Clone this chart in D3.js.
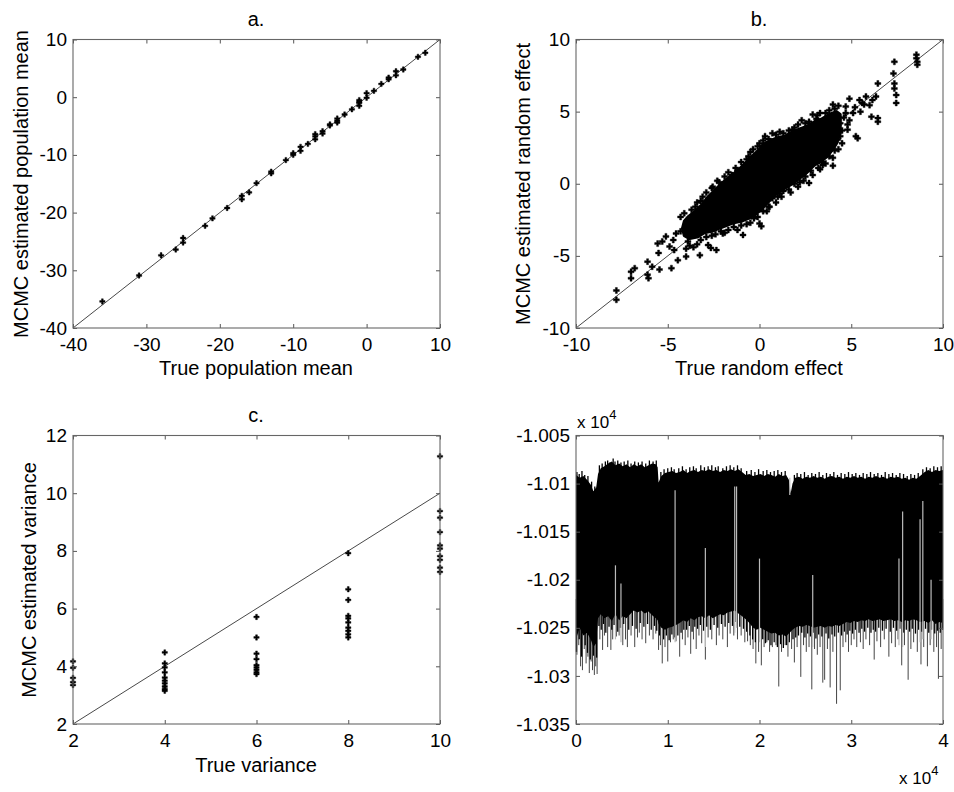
<!DOCTYPE html>
<html>
<head>
<meta charset="utf-8">
<title>MCMC estimates</title>
<script src="https://cdnjs.cloudflare.com/ajax/libs/d3/7.8.5/d3.min.js"></script>
<style>
  body { margin: 0; background: #fff; }
  svg text { font-family: "Liberation Sans", Arial, Helvetica, sans-serif; fill: #000; }
</style>
</head>
<body>
<svg width="954" height="792"></svg>
<script>
// ---- panel a: population means
var popTrue = [-36,-31,-28,-26,-25,-25,-22,-21,-19,-17,-17,-16,-15,-13,-13,-11,-10,-10,-9,-9,-8,
  -7,-7,-7,-6,-6,-5,-5,-4,-4,-4,-3,-2,-1,-1,-1,-1,0,0,1,2,3,3,4,4,5,7,8];
var popEst = [-35.4,-30.9,-27.4,-26.4,-24.4,-25.2,-22.3,-21.0,-19.2,-17.1,-17.7,-16.5,-14.9,-12.9,-13.2,-10.9,-10.0,-9.7,-8.6,-9.3,-8.1,
  -6.4,-6.8,-7.3,-5.9,-6.3,-4.9,-4.7,-3.7,-4.1,-4.4,-3.0,-2.1,-0.5,-0.8,-1.0,-1.5,0.7,-0.1,1.1,2.3,3.1,3.4,4.5,3.8,4.8,7.0,7.7];
var popTicks = [-40,-30,-20,-10,0,10];

// ---- panel b: random effects (outline of the saturated core + individual points)
var effectCore = [[-4.2,-3.1],[-4.1,-2.6],[-3.9,-2.3],[-3.5,-1.9],[-3.1,-1.4],[-2.8,-0.9],[-2.4,-0.4],[-2.0,0.1],
  [-1.6,0.5],[-1.2,0.9],[-0.8,1.4],[-0.4,1.9],[0.0,2.4],[0.3,2.8],[0.6,3.0],[1.0,3.2],[1.4,3.3],[1.8,3.6],[2.2,3.8],
  [2.6,4.0],[3.0,4.3],[3.4,4.5],[3.8,4.8],[4.2,5.0],[4.4,4.8],[4.4,3.6],[4.2,2.8],[4.0,2.4],[3.7,1.9],[3.3,1.5],
  [3.0,1.3],[2.6,0.8],[2.2,0.4],[1.8,0.0],[1.4,-0.3],[1.0,-0.6],[0.6,-1.1],[0.3,-1.5],[0.0,-1.9],[-0.3,-2.2],
  [-0.6,-2.4],[-1.0,-2.6],[-1.4,-2.7],[-1.8,-2.9],[-2.2,-3.1],[-2.6,-3.3],[-3.0,-3.4],[-3.4,-3.7],[-3.8,-3.8],
  [-4.1,-3.6]];
var effectPoints = [[-7.8,-7.4],[-7.8,-8.05],[-7.0,-6.1],[-6.8,-5.85],[-7.0,-6.55],[-6.1,-5.4],[-6.1,-6.3],[-6.05,-6.55],
  [-5.85,-5.75],[-5.55,-4.15],[-5.5,-4.8],[-5.45,-5.95],[-5.3,-4.0],[-5.1,-3.65],[-4.9,-4.35],[-4.8,-5.85],[-4.65,-4.6],
  [-4.55,-3.45],[-4.45,-5.3],[-4.0,-5.05],[-4.1,-2.05],[-3.9,-4.0],[-3.25,-4.95],[-3.1,-0.9],[-2.8,-4.25],[-2.65,-4.45],
  [-2.55,-0.2],[-2.35,-4.6],[-2.0,-3.45],[-1.45,-0.3],[-1.1,-0.2],[-0.9,-3.55],[-0.55,0.25],[0.0,-2.75],[0.1,-2.95],
  [0.15,2.6],[0.0,2.1],[-0.3,1.9],[0.55,-1.6],[1.1,-0.65],[1.35,3.05],[1.8,3.75],[2.7,0.05],[3.15,4.75],[3.15,4.4],
  [3.45,1.3],[3.55,2.0],[4.0,1.25],[4.25,3.05],[4.7,5.35],[4.8,3.75],[4.9,5.9],[5.25,3.3],[5.35,3.15],[5.45,5.8],
  [5.6,5.6],[5.8,6.05],[6.0,5.45],[6.1,4.65],[6.15,5.8],[6.35,6.05],[6.45,6.95],[6.45,4.55],[6.45,4.3],[7.35,8.45],
  [7.3,7.65],[7.35,6.95],[7.35,6.6],[7.45,6.15],[7.45,5.6],[8.55,8.95],[8.55,8.7],[8.6,8.45],[8.6,8.25],
  [-3.5,-1.6],[-3.2,-1.2],[-2.9,-0.6],[-2.2,0.1],[-1.9,0.5],[-1.5,0.6],[-1.2,0.9],[-0.8,1.2],[-0.6,1.9],[-0.35,2.4],
  [0.0,2.8],[0.3,3.3],[0.7,3.5],[1.1,3.6],[1.6,3.7],[2.1,4.1],[2.3,4.4],[2.7,4.3],[2.9,4.8],[3.3,4.9],[3.8,5.1],
  [4.0,5.5],[4.3,5.4],[-3.8,-4.3],[-3.4,-4.2],[-2.9,-3.7],[-2.6,-3.6],[-2.1,-3.3],[-1.7,-3.2],[-1.4,-3.0],[-1.0,-2.9],
  [-0.7,-2.8],[-0.3,-2.4],[0.2,-1.9],[0.5,-1.6],[0.7,-1.0],[1.0,-0.9],[1.3,-0.5],[1.6,-0.4],[1.9,0.0],[2.2,0.1],
  [2.5,0.5],[2.8,0.9],[3.2,1.1],[3.4,1.5],[3.8,1.9],[4.1,2.3],[4.4,3.3],[4.5,2.8],[4.4,4.2],[4.6,4.6],[4.7,4.9],
  [4.9,4.4],[5.1,4.9],[5.2,5.3],[5.5,5.0],[5.7,5.5],[4.5,3.7],[4.8,4.1],[-4.7,-3.9],[-4.3,-3.3],[-4.0,-2.9],
  [-4.3,-2.3],[-3.7,-1.8],[-3.4,-1.3],[-2.6,-0.3],[-2.3,0.2],[-1.7,0.8],[-1.3,1.1],[-1.0,1.5],[-0.7,1.7],[-0.5,2.2],
  [-0.1,2.6],[0.2,3.0],[0.5,3.1],[0.9,3.4],[1.3,3.5],[1.9,3.9],[2.5,4.2],[3.1,4.5],[3.6,4.9],[4.1,5.2],
  [-4.0,-4.5],[-3.6,-4.4],[-3.2,-3.9],[-2.4,-3.5],[-1.9,-3.4],[-1.2,-3.2],[-0.5,-2.7],[-0.1,-2.3],[0.4,-1.9],[0.9,-1.3],
  [1.2,-0.9],[1.7,-0.6],[2.1,-0.2],[2.4,0.2],[2.9,0.6],[3.3,1.0],[3.6,1.4],[4.0,1.8],[4.3,2.4]];
var effectTicks = [-10,-5,0,5,10];

// ---- panel c: variances
var varLevels = [2,4,6,8,10];
var varEstimates = [
  [4.17,3.95,3.6,3.45,3.35],
  [4.48,4.10,3.96,3.79,3.61,3.50,3.41,3.30,3.21,3.15],
  [5.71,5.0,4.44,4.25,4.04,3.96,3.88,3.79,3.73],
  [7.92,6.67,6.30,5.75,5.66,5.52,5.34,5.23,5.11,5.0],
  [11.28,9.38,9.15,8.65,8.19,8.08,7.82,7.69,7.42,7.27]];
var varXTicks = [2,4,6,8,10];
var varYTicks = [2,4,6,8,10,12];

// ---- panel d: trace (iteration x1e4, value x1e4): [iter, upper, lower]
var traceBand = [[0.00,-1.0091,-1.0262],[0.04,-1.0094,-1.0250],[0.08,-1.0092,-1.0258],[0.12,-1.0096,-1.0255],
  [0.16,-1.0101,-1.0262],[0.19,-1.0108,-1.0270],[0.22,-1.0104,-1.0266],[0.24,-1.0090,-1.0240],[0.27,-1.0084,-1.0236],
  [0.31,-1.0082,-1.0240],[0.35,-1.0079,-1.0238],[0.39,-1.0077,-1.0243],[0.43,-1.0081,-1.0236],[0.47,-1.0079,-1.0242],
  [0.51,-1.0082,-1.0238],[0.55,-1.0080,-1.0240],[0.59,-1.0083,-1.0236],[0.63,-1.0080,-1.0232],[0.67,-1.0082,-1.0234],
  [0.71,-1.0080,-1.0232],[0.75,-1.0083,-1.0235],[0.79,-1.0081,-1.0233],[0.83,-1.0079,-1.0237],[0.87,-1.0080,-1.0240],
  [0.89,-1.0083,-1.0242],[0.90,-1.0099,-1.0246],[0.93,-1.0092,-1.0250],[0.97,-1.0089,-1.0252],[1.01,-1.0088,-1.0250],
  [1.05,-1.0087,-1.0249],[1.09,-1.0089,-1.0247],[1.13,-1.0088,-1.0245],[1.17,-1.0086,-1.0242],[1.21,-1.0089,-1.0244],
  [1.25,-1.0087,-1.0240],[1.29,-1.0086,-1.0242],[1.33,-1.0088,-1.0239],[1.37,-1.0086,-1.0238],[1.41,-1.0087,-1.0240],
  [1.45,-1.0085,-1.0237],[1.49,-1.0087,-1.0240],[1.53,-1.0086,-1.0238],[1.57,-1.0088,-1.0236],[1.61,-1.0086,-1.0237],
  [1.65,-1.0087,-1.0234],[1.69,-1.0085,-1.0233],[1.73,-1.0087,-1.0232],[1.77,-1.0085,-1.0235],[1.81,-1.0088,-1.0238],
  [1.85,-1.0091,-1.0241],[1.89,-1.0090,-1.0245],[1.93,-1.0092,-1.0250],[1.97,-1.0091,-1.0252],[2.01,-1.0090,-1.0250],
  [2.05,-1.0092,-1.0252],[2.09,-1.0090,-1.0254],[2.13,-1.0091,-1.0256],[2.17,-1.0093,-1.0255],[2.21,-1.0090,-1.0258],
  [2.25,-1.0092,-1.0257],[2.29,-1.0091,-1.0259],[2.32,-1.0096,-1.0256],[2.34,-1.0110,-1.0254],[2.36,-1.0100,-1.0252],
  [2.39,-1.0094,-1.0250],[2.43,-1.0093,-1.0248],[2.47,-1.0095,-1.0249],[2.51,-1.0093,-1.0247],[2.55,-1.0094,-1.0248],
  [2.59,-1.0092,-1.0250],[2.63,-1.0094,-1.0249],[2.67,-1.0093,-1.0248],[2.71,-1.0095,-1.0250],[2.75,-1.0093,-1.0248],
  [2.79,-1.0092,-1.0249],[2.83,-1.0094,-1.0247],[2.87,-1.0093,-1.0248],[2.91,-1.0095,-1.0246],[2.95,-1.0093,-1.0244],
  [2.99,-1.0094,-1.0245],[3.03,-1.0092,-1.0243],[3.07,-1.0094,-1.0244],[3.11,-1.0093,-1.0242],[3.15,-1.0095,-1.0243],
  [3.19,-1.0093,-1.0241],[3.23,-1.0094,-1.0243],[3.27,-1.0092,-1.0242],[3.31,-1.0094,-1.0241],[3.35,-1.0093,-1.0243],
  [3.39,-1.0095,-1.0242],[3.43,-1.0093,-1.0241],[3.47,-1.0094,-1.0243],[3.51,-1.0093,-1.0242],[3.55,-1.0095,-1.0244],
  [3.59,-1.0094,-1.0242],[3.63,-1.0096,-1.0243],[3.67,-1.0094,-1.0241],[3.71,-1.0095,-1.0242],[3.75,-1.0092,-1.0244],
  [3.80,-1.0088,-1.0243],[3.84,-1.0086,-1.0245],[3.88,-1.0088,-1.0242],[3.92,-1.0086,-1.0246],[3.96,-1.0087,-1.0244],
  [4.00,-1.0086,-1.0245]];
// long downward excursions (drawn grey): [iter, lowest value]
var traceSpikes = [[0.01,-1.0278],[0.03,-1.0268],[0.05,-1.0290],[0.07,-1.0294],[0.09,-1.0272],[0.11,-1.0287],[0.13,-1.0280],
  [0.145,-1.0297],[0.165,-1.0285],[0.18,-1.0294],[0.20,-1.0299],[0.215,-1.0290],[0.23,-1.0298],[0.26,-1.0262],[0.29,-1.0273],
  [0.31,-1.0258],[0.345,-1.0270],[0.38,-1.0273],[0.40,-1.0262],[0.44,-1.0259],[0.47,-1.0258],[0.51,-1.0268],[0.54,-1.0262],
  [0.56,-1.0270],[0.60,-1.0258],[0.64,-1.0270],[0.67,-1.0260],[0.69,-1.0255],[0.72,-1.0262],[0.76,-1.0266],[0.80,-1.0258],
  [0.84,-1.0262],[0.87,-1.0256],[0.90,-1.0273],[0.92,-1.0268],[0.94,-1.0287],[0.97,-1.0270],[1.00,-1.0285],[1.03,-1.0265],
  [1.06,-1.0262],[1.09,-1.0264],[1.13,-1.0280],[1.16,-1.0262],[1.19,-1.0268],[1.22,-1.0260],[1.25,-1.0277],[1.28,-1.0262],
  [1.31,-1.0272],[1.34,-1.0258],[1.37,-1.0266],[1.41,-1.0283],[1.44,-1.0260],[1.48,-1.0262],[1.53,-1.0268],[1.56,-1.0258],
  [1.60,-1.0262],[1.65,-1.0270],[1.68,-1.0256],[1.72,-1.0258],[1.76,-1.0262],[1.80,-1.0258],[1.84,-1.0265],[1.87,-1.0264],
  [1.90,-1.0268],[1.93,-1.0272],[1.96,-1.0287],[1.99,-1.0275],[2.02,-1.0289],[2.05,-1.0270],[2.08,-1.0265],[2.11,-1.0275],
  [2.14,-1.0270],[2.18,-1.0268],[2.21,-1.0311],[2.24,-1.0275],[2.28,-1.0268],[2.31,-1.0280],[2.35,-1.0272],[2.38,-1.0286],
  [2.41,-1.0270],[2.45,-1.0301],[2.48,-1.0268],[2.51,-1.0275],[2.54,-1.0270],[2.57,-1.0314],[2.60,-1.0272],[2.63,-1.0278],
  [2.66,-1.0270],[2.69,-1.0307],[2.71,-1.0304],[2.74,-1.0272],[2.77,-1.0312],[2.80,-1.0275],[2.84,-1.0329],[2.88,-1.0315],
  [2.91,-1.0270],[2.94,-1.0265],[2.97,-1.0275],[3.00,-1.0268],[3.03,-1.0262],[3.06,-1.0270],[3.10,-1.0265],[3.13,-1.0272],
  [3.16,-1.0262],[3.20,-1.0268],[3.25,-1.0283],[3.28,-1.0264],[3.32,-1.0270],[3.36,-1.0262],[3.41,-1.0280],[3.44,-1.0266],
  [3.48,-1.0270],[3.51,-1.0262],[3.55,-1.0289],[3.58,-1.0268],[3.62,-1.0304],[3.65,-1.0272],[3.68,-1.0265],[3.72,-1.0275],
  [3.76,-1.0288],[3.79,-1.0270],[3.83,-1.0290],[3.86,-1.0268],[3.90,-1.0275],[3.93,-1.0270],[3.95,-1.0303],[3.98,-1.0272]];
// short excursions just below the band (drawn black): [iter, lowest value]
var traceFringe = [[0.005,-1.0275],[0.035,-1.0262],[0.06,-1.0280],[0.1,-1.0268],[0.125,-1.0276],[0.155,-1.0283],[0.19,-1.0279],
  [0.225,-1.0281],[0.25,-1.0248],[0.275,-1.0252],[0.3,-1.0246],[0.325,-1.0255],[0.36,-1.0249],[0.39,-1.0252],[0.415,-1.0247],
  [0.455,-1.0254],[0.485,-1.0250],[0.52,-1.0246],[0.575,-1.0252],[0.615,-1.0248],[0.655,-1.0251],[0.7,-1.0245],[0.74,-1.0249],
  [0.78,-1.0246],[0.82,-1.0252],[0.855,-1.0248],[0.88,-1.0253],[0.91,-1.0258],[0.955,-1.0262],[0.985,-1.0258],[1.015,-1.0263],
  [1.045,-1.0257],[1.075,-1.0260],[1.11,-1.0258],[1.145,-1.0255],[1.175,-1.0252],[1.205,-1.0252],[1.235,-1.0248],[1.265,-1.0254],
  [1.295,-1.0249],[1.325,-1.0251],[1.355,-1.0247],[1.39,-1.0253],[1.425,-1.0249],[1.465,-1.0252],[1.505,-1.0247],[1.545,-1.0250],
  [1.585,-1.0246],[1.625,-1.0249],[1.665,-1.0245],[1.705,-1.0248],[1.745,-1.0244],[1.785,-1.0249],[1.825,-1.0251],[1.86,-1.0254],
  [1.895,-1.0258],[1.925,-1.0262],[1.955,-1.0265],[2.035,-1.0262],[2.065,-1.0266],[2.095,-1.0263],[2.125,-1.0268],[2.16,-1.0265],
  [2.195,-1.0270],[2.23,-1.0267],[2.26,-1.0271],[2.295,-1.0268],[2.325,-1.0265],[2.365,-1.0262],[2.395,-1.0260],[2.425,-1.0258],
  [2.46,-1.0255],[2.495,-1.0260],[2.525,-1.0256],[2.555,-1.0259],[2.585,-1.0255],[2.615,-1.0261],[2.645,-1.0257],[2.68,-1.0259],
  [2.725,-1.0256],[2.755,-1.0261],[2.79,-1.0257],[2.82,-1.0259],[2.86,-1.0255],[2.895,-1.0258],[2.925,-1.0254],[2.955,-1.0257],
  [2.985,-1.0253],[3.015,-1.0256],[3.045,-1.0252],[3.085,-1.0255],[3.115,-1.0251],[3.145,-1.0254],[3.18,-1.0250],[3.215,-1.0255],
  [3.24,-1.0252],[3.265,-1.0254],[3.3,-1.0250],[3.34,-1.0253],[3.38,-1.0251],[3.425,-1.0254],[3.46,-1.0250],[3.495,-1.0253],
  [3.53,-1.0251],[3.57,-1.0255],[3.6,-1.0252],[3.635,-1.0254],[3.665,-1.0251],[3.7,-1.0256],[3.735,-1.0252],[3.77,-1.0254],
  [3.81,-1.0251],[3.845,-1.0255],[3.875,-1.0252],[3.91,-1.0256],[3.94,-1.0253],[3.97,-1.0255],[3.995,-1.0252]];
// short upward excursions above the band: [iter, highest value]
var traceCrest = [[0.01,-1.0088],[0.035,-1.0090],[0.065,-1.0087],[0.095,-1.0091],[0.13,-1.0092],[0.17,-1.0098],[0.205,-1.0103],
  [0.255,-1.0081],[0.285,-1.0079],[0.32,-1.0077],[0.345,-1.0076],[0.37,-1.0078],[0.405,-1.0074],[0.425,-1.0077],[0.455,-1.0076],
  [0.49,-1.0078],[0.525,-1.0077],[0.565,-1.0076],[0.6,-1.0079],[0.64,-1.0077],[0.68,-1.0078],[0.72,-1.0077],[0.76,-1.0079],
  [0.8,-1.0076],[0.84,-1.0077],[0.875,-1.0076],[0.925,-1.0088],[0.96,-1.0085],[1.0,-1.0084],[1.04,-1.0083],[1.07,-1.0085],
  [1.12,-1.0084],[1.16,-1.0082],[1.2,-1.0085],[1.24,-1.0083],[1.28,-1.0082],[1.31,-1.0084],[1.36,-1.0081],[1.4,-1.0083],
  [1.44,-1.0082],[1.48,-1.0081],[1.52,-1.0083],[1.55,-1.0082],[1.6,-1.0084],[1.64,-1.0082],[1.68,-1.0081],[1.72,-1.0083],
  [1.76,-1.0081],[1.8,-1.0084],[1.86,-1.0087],[1.91,-1.0086],[1.95,-1.0088],[1.99,-1.0085],[2.04,-1.0087],[2.08,-1.0086],
  [2.12,-1.0088],[2.16,-1.0087],[2.2,-1.0086],[2.24,-1.0088],[2.28,-1.0087],[2.38,-1.0091],[2.41,-1.0089],[2.45,-1.0090],
  [2.49,-1.0088],[2.53,-1.0091],[2.57,-1.0089],[2.61,-1.0090],[2.65,-1.0088],[2.69,-1.0091],[2.73,-1.0089],[2.77,-1.0090],
  [2.81,-1.0088],[2.85,-1.0091],[2.89,-1.0089],[2.93,-1.0090],[2.97,-1.0088],[3.01,-1.0090],[3.05,-1.0089],[3.09,-1.0091],
  [3.13,-1.0089],[3.17,-1.0090],[3.21,-1.0088],[3.25,-1.0090],[3.29,-1.0089],[3.33,-1.0091],[3.37,-1.0088],[3.41,-1.0090],
  [3.45,-1.0089],[3.49,-1.0091],[3.53,-1.0089],[3.57,-1.0090],[3.61,-1.0092],[3.65,-1.0090],[3.69,-1.0091],[3.73,-1.0089],
  [3.78,-1.0085],[3.82,-1.0083],[3.86,-1.0084],[3.9,-1.0082],[3.94,-1.0083],[3.98,-1.0082]];
// pale gaps inside the band: [iter, from, to]
var traceGaps = [[0.43,-1.0185,-1.0262],[0.49,-1.0204,-1.0265],[1.08,-1.0107,-1.0265],[1.41,-1.0167,-1.0270],
  [1.73,-1.0103,-1.0255],[1.75,-1.0103,-1.0250],[2.00,-1.0178,-1.0265],[2.33,-1.0094,-1.0112],[2.58,-1.0195,-1.0270],
  [3.52,-1.0178,-1.0268],[3.56,-1.0129,-1.0270],[3.75,-1.0137,-1.0265],[3.78,-1.0118,-1.0262],[3.87,-1.0200,-1.0262]];
var traceXTicks = [0,1,2,3,4];
var traceYTicks = [-1.035,-1.03,-1.025,-1.02,-1.015,-1.01,-1.005];

var FONT = '"Liberation Sans", Arial, Helvetica, sans-serif';
var svg = d3.select("svg");
var W = 367, H = 288.5;

function panel(left, top, xDom, yDom) {
  var g = svg.append("g").attr("transform", "translate(" + left + "," + top + ")");
  var x = d3.scaleLinear().domain(xDom).range([0, W]);
  var y = d3.scaleLinear().domain(yDom).range([H, 0]);
  return {g: g, x: x, y: y};
}

// matlab-ish box: inward ticks on all four sides
function frame(p, xTicks, yTicks) {
  var fmt = function(d) { return String(d); };
  var none = function() { return ""; };
  var b = p.g.append("g").attr("transform", "translate(0," + H + ")")
    .call(d3.axisBottom(p.x).tickValues(xTicks).tickSize(-4).tickPadding(10).tickFormat(fmt));
  var t = p.g.append("g").call(d3.axisTop(p.x).tickValues(xTicks).tickSize(-4).tickFormat(none));
  var l = p.g.append("g")
    .call(d3.axisLeft(p.y).tickValues(yTicks).tickSize(-4).tickPadding(6).tickFormat(fmt));
  var r = p.g.append("g").attr("transform", "translate(" + W + ",0)")
    .call(d3.axisRight(p.y).tickValues(yTicks).tickSize(-4).tickFormat(none));
  [b, t, l, r].forEach(function(a) {
    a.attr("font-size", 19).attr("font-family", FONT);
    a.select(".domain").remove();
    a.selectAll(".tick line").attr("stroke", "#555");
    a.selectAll("text").attr("fill", "#000");
  });
  p.g.append("rect").attr("width", W).attr("height", H)
    .attr("fill", "none").attr("stroke", "#666").attr("stroke-width", 1.1);
}

function label(txt, x, y) {
  svg.append("text").attr("x", x).attr("y", y).attr("text-anchor", "middle")
    .attr("font-size", 20).text(txt);
}
function ylabel(txt, x, y) {
  svg.append("text").attr("transform", "translate(" + x + "," + y + ") rotate(-90)")
    .attr("text-anchor", "middle").attr("font-size", 20).text(txt);
}

var cross = d3.symbol().type(d3.symbolCross);

function diag(p, lo, hi) {
  p.g.append("line").attr("x1", p.x(lo)).attr("y1", p.y(lo)).attr("x2", p.x(hi)).attr("y2", p.y(hi))
    .attr("stroke", "#333").attr("stroke-width", 0.9);
}

function markers(p, pts, size) {
  p.g.selectAll("path.pt").data(pts).enter().append("path")
    .attr("class", "pt")
    .attr("transform", function(d) { return "translate(" + p.x(d[0]) + "," + p.y(d[1]) + ")"; })
    .attr("d", cross.size(size)).attr("fill", "#000").attr("stroke", "#000").attr("stroke-width", 0.4);
}

function vlines(p, rows, from, to, colour, width) {
  p.g.append("g").selectAll("line").data(rows).enter().append("line")
    .attr("x1", function(d) { return p.x(d[0]); }).attr("x2", function(d) { return p.x(d[0]); })
    .attr("y1", function(d) { return p.y(from(d)); }).attr("y2", function(d) { return p.y(to(d)); })
    .attr("stroke", colour).attr("stroke-width", width);
}

// ---------------- a.
var pa = panel(73, 39.5, [-40, 10], [-40, 10]);
diag(pa, -40, 10);
markers(pa, popTrue.map(function(d, i) { return [d, popEst[i]]; }), 16);
frame(pa, popTicks, popTicks);
label("a.", 256, 26);
label("True population mean", 256, 375);
ylabel("MCMC estimated population mean", 28, 184);

// ---------------- b.
var pb = panel(576, 39.5, [-10, 10], [-10, 10]);
diag(pb, -10, 10);
pb.g.append("path").datum(effectCore)
  .attr("d", d3.line().x(function(d) { return pb.x(d[0]); }).y(function(d) { return pb.y(d[1]); }).curve(d3.curveLinearClosed))
  .attr("fill", "#000").attr("stroke", "#000").attr("stroke-width", 3).attr("stroke-linejoin", "round");
markers(pb, effectPoints, 20);
frame(pb, effectTicks, effectTicks);
label("b.", 759, 26);
label("True random effect", 759, 375);
ylabel("MCMC estimated random effect", 530, 184);

// ---------------- c.
var pc = panel(73, 435.5, [2, 10], [2, 12]);
diag(pc, 2, 10);
var varPts = [];
varLevels.forEach(function(v, i) { varEstimates[i].forEach(function(e) { varPts.push([v, e]); }); });
markers(pc, varPts, 16);
frame(pc, varXTicks, varYTicks);
label("c.", 256, 422);
label("True variance", 256, 772);
ylabel("MCMC estimated variance", 36, 580);

// ---------------- d.
var pd = panel(576, 435.5, [0, 4], [-1.035, -1.005]);
vlines(pd, traceSpikes, function() { return -1.022; }, function(d) { return d[1]; }, "#444", 1);
vlines(pd, traceFringe, function() { return -1.022; }, function(d) { return d[1]; }, "#000", 1.3);
vlines(pd, traceCrest, function() { return -1.012; }, function(d) { return d[1]; }, "#000", 1.3);
pd.g.append("path").datum(traceBand)
  .attr("d", d3.area().x(function(d) { return pd.x(d[0]); })
    .y0(function(d) { return pd.y(d[2]); }).y1(function(d) { return pd.y(d[1]); }))
  .attr("fill", "#000");
vlines(pd, traceGaps, function(d) { return d[1]; }, function(d) { return d[2]; }, "#bbb", 1.2);
frame(pd, traceXTicks, traceYTicks);

function expLabel(x, y) {
  var t = svg.append("text").attr("x", x).attr("y", y).attr("font-size", 17);
  t.append("tspan").text("x 10");
  t.append("tspan").attr("dy", -9).attr("font-size", 13).text("4");
}
expLabel(577, 428);
expLabel(899, 784);
</script>
</body>
</html>
